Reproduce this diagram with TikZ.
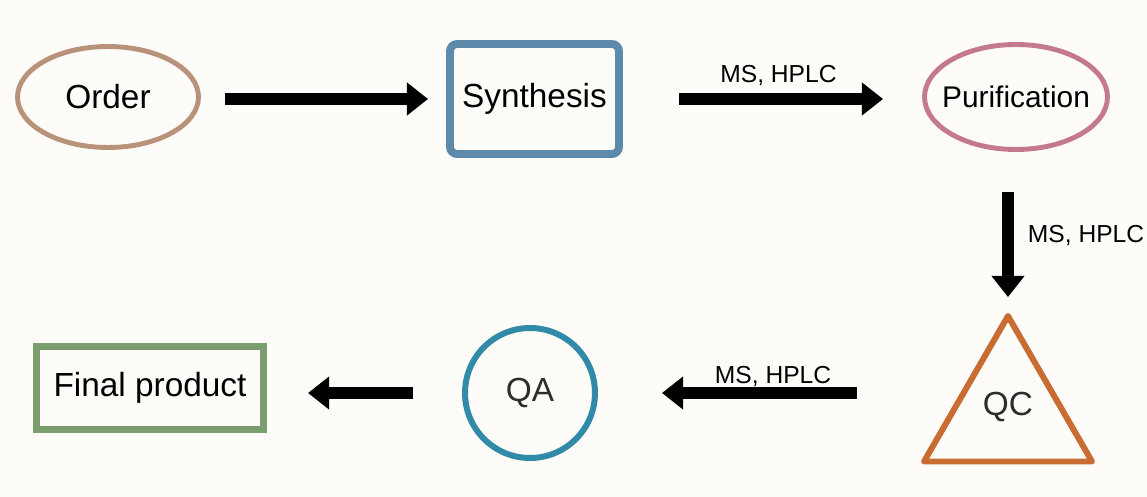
\documentclass[tikz,border=0pt]{standalone}
\usepackage{fontspec}
\setmainfont{Liberation Sans}
\usetikzlibrary{shapes.geometric,arrows.meta}

\definecolor{bgcol}{RGB}{253,252,249}
\definecolor{ordercol}{RGB}{185,146,122}
\definecolor{synthcol}{RGB}{93,137,170}
\definecolor{purifcol}{RGB}{196,122,138}
\definecolor{qccol}{RGB}{200,108,50}
\definecolor{qacol}{RGB}{48,138,168}
\definecolor{finalcol}{RGB}{122,158,110}
\definecolor{textgray}{RGB}{45,45,45}

\begin{document}
\begin{tikzpicture}[x=0.02cm,y=-0.02cm,
	box/.style={draw,inner sep=0pt,text=black,font=\fontsize{19}{23}\selectfont},
	arr/.style={line width=6.8pt,-{Triangle[length=12pt,width=18pt]}},
	lab/.style={inner sep=0pt,font=\fontsize{14}{17}\selectfont}]
	\fill[bgcol] (0,0) rectangle (1147,497);
	\useasboundingbox (0,0) rectangle (1147,497);

	\node (order) [box,ellipse,draw=ordercol,line width=2.8pt,minimum width=3.62cm,minimum height=2.02cm] at (108,97) {Order};
	\node (synth) [box,draw=synthcol,rounded corners=4pt,line width=4.5pt,minimum width=3.38cm,minimum height=2.2cm] at (534.5,99) {Synthesis};
	\node (purif) [box,ellipse,draw=purifcol,line width=2.8pt,minimum width=3.66cm,minimum height=2.1cm,font=\fontsize{17}{21}\selectfont] at (1016,97) {\makebox[0pt]{Purification}};
	\node (qc) [box,regular polygon,regular polygon sides=3,draw=qccol,text=textgray,line width=3.4pt,line join=round,minimum size=3.88cm] at (1008,413) {\raisebox{10pt}{QC}};
	\node (qa) [box,circle,draw=qacol,text=textgray,line width=3.4pt,minimum size=2.6cm] at (530,393) {QA};
	\node (final) [box,draw=finalcol,line width=4pt,minimum width=4.54cm,minimum height=1.66cm] at (150,388) {Final product};

	\draw[arr,shorten <=0.48cm,shorten >=0.36cm] (order.east |- synth.west) -- (synth.west);
	\draw[arr,shorten <=1.12cm,shorten >=0.78cm] (synth.east) -- (purif.west |- synth.east)
		node[lab,pos=0.52,anchor=base,yshift=0.34cm]{MS, HPLC};
	\draw[arr,shorten <=0.8cm,shorten >=0.26cm] (qc.corner 1 |- purif.south) -- (qc.corner 1)
		node[lab,pos=0.53,anchor=west,xshift=0.28cm]{MS, HPLC};
	\draw[arr,shorten <=3.02cm,shorten >=1.28cm] (qc.center |- qa.east) -- (qa.east)
		node[lab,pos=0.573,anchor=base,yshift=0.2cm]{MS, HPLC};
	\draw[arr,shorten <=0.98cm,shorten >=0.82cm] (qa.west) -- (final.east |- qa.west);
\end{tikzpicture}
\end{document}
